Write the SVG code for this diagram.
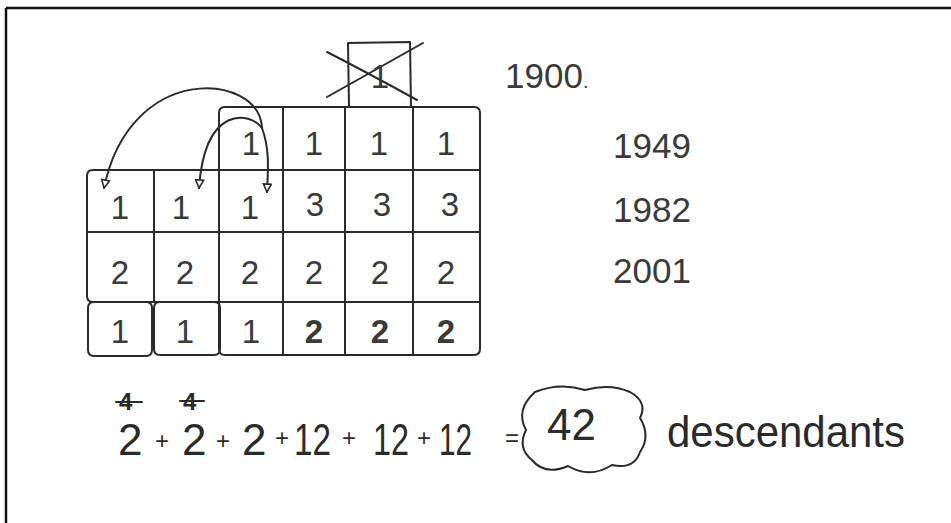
<svg xmlns="http://www.w3.org/2000/svg" width="951" height="523" viewBox="0 0 951 523">
<defs>
<style>
.ln{fill:none;stroke:#2a2a2a;stroke-width:2;stroke-linecap:round;stroke-linejoin:round}
.cell{font-family:"Liberation Sans",Arial,sans-serif;font-size:33px;fill:#3a3a3a;text-anchor:middle}
.yr{font-family:"Liberation Sans",Arial,sans-serif;font-size:35px;fill:#3a3a3a}
.eq{font-family:"Liberation Sans",Arial,sans-serif;font-size:44px;fill:#2a2a2a}
.pl{font-family:"Liberation Sans",Arial,sans-serif;font-size:24px;fill:#2a2a2a}
</style>
<marker id="ah" viewBox="0 0 10 10" refX="9" refY="5" markerWidth="10" markerHeight="10" markerUnits="userSpaceOnUse" orient="auto">
<path d="M1,1 L9,5 L1,9 Z" fill="#fff" stroke="#2a2a2a" stroke-width="1.6"/>
</marker>
</defs>
<rect width="951" height="523" fill="#fff"/>
<g id="frame">
<path d="M6 8 H951 M6 8 V523" stroke="#111" stroke-width="2.5" fill="none"/>
</g>
<g id="crossed-box">
<path class="ln" d="M348 43 L410 42 L411 107 L349 107 Z"/>
<path class="ln" d="M327 52 Q370 74 417 100 M327 97 Q375 70 423 43"/>
<text class="cell" x="380" y="88" font-size="30">1</text>
</g>
<g id="grid-right">
<path class="ln" d="M225 107 H474 Q480 107 480 113 V349 Q480 355 474 355 H225 Q219 355 219 349 V113 Q219 107 225 107 Z"/>
<path class="ln" d="M283 107 V355 M345 107 V355 M413 107 V355 M219 170 H480 M219 232 H480 M219 302 H480"/>
</g>
<g id="grid-left">
<path class="ln" d="M93 170 H219 V302 H93 Q87 302 87 296 V176 Q87 170 93 170 Z"/>
<path class="ln" d="M154 170 V302 M87 232 H219"/>
<path class="ln" d="M94 302 H146 Q152 302 152 308 V350 Q152 356 146 356 H94 Q88 356 88 350 V308 Q88 302 94 302 Z"/>
<path class="ln" d="M160 302 H214 Q220 302 220 308 V349 Q220 355 214 355 H160 Q154 355 154 349 V308 Q154 302 160 302 Z"/>
</g>
<g id="row1">
<text class="cell" x="251" y="155">1</text>
<text class="cell" x="314" y="155">1</text>
<text class="cell" x="379" y="155">1</text>
<text class="cell" x="446" y="155">1</text>
</g>
<g id="row2">
<text class="cell" x="120" y="219" font-size="38">1</text>
<text class="cell" x="181" y="219" font-size="38">1</text>
<text class="cell" x="250" y="219" font-size="38">1</text>
<text class="cell" x="315" y="216">3</text>
<text class="cell" x="382" y="216">3</text>
<text class="cell" x="450" y="216">3</text>
</g>
<g id="row3">
<text class="cell" x="120" y="284">2</text>
<text class="cell" x="185" y="284">2</text>
<text class="cell" x="250" y="284">2</text>
<text class="cell" x="314" y="284">2</text>
<text class="cell" x="380" y="284">2</text>
<text class="cell" x="446" y="284">2</text>
</g>
<g id="row4">
<text class="cell" x="120" y="343">1</text>
<text class="cell" x="185" y="343">1</text>
<text class="cell" x="251" y="343">1</text>
<text class="cell" x="314" y="343" font-weight="bold">2</text>
<text class="cell" x="380" y="343" font-weight="bold">2</text>
<text class="cell" x="446" y="343" font-weight="bold">2</text>
</g>
<g id="connectors">
<path class="ln" d="M262 127 C258 72 130 62 104 188" marker-end="url(#ah)"/>
<path class="ln" d="M262 128 C250 112 205 104 199 188" marker-end="url(#ah)"/>
<path class="ln" d="M262 128 C270 150 268 170 267 192" marker-end="url(#ah)"/>
</g>
<g id="years">
<text class="yr" x="505" y="88">1900<tspan font-size="20">.</tspan></text>
<text class="yr" x="613" y="158">1949</text>
<text class="yr" x="613" y="222">1982</text>
<text class="yr" x="613" y="283">2001</text>
</g>
<g id="equation">
<text class="pl" x="119" y="410" font-size="21" font-weight="bold">4</text>
<path class="ln" d="M116 402 H142"/>
<text class="pl" x="183" y="410" font-size="21" font-weight="bold">4</text>
<path class="ln" d="M180 401 H204"/>
<text class="eq" x="118" y="455">2</text>
<text class="pl" x="155" y="449">+</text>
<text class="eq" x="182" y="455">2</text>
<text class="pl" x="216" y="449">+</text>
<text class="eq" x="242" y="455">2</text>
<text class="pl" x="275" y="446" font-size="22">+</text>
<text class="eq" x="294" y="455" textLength="37" lengthAdjust="spacingAndGlyphs">12</text>
<text class="pl" x="342" y="446" font-size="22">+</text>
<text class="eq" x="373" y="455" textLength="36" lengthAdjust="spacingAndGlyphs">12</text>
<text class="pl" x="417" y="446" font-size="22">+</text>
<text class="eq" x="439" y="455" textLength="33" lengthAdjust="spacingAndGlyphs">12</text>
<text class="pl" x="505" y="446">=</text>
</g>
<g id="result">
<path class="ln" d="M535 392 Q560 382 585 390 Q610 383 630 392 Q648 402 640 418 Q651 436 640 452 Q634 470 612 465 Q590 479 568 466 Q545 476 532 460 Q517 448 526 430 Q515 410 535 392 Z"/>
<text class="eq" x="547" y="440" font-size="48">42</text>
<text class="eq" x="667" y="447" font-size="40" textLength="238" lengthAdjust="spacingAndGlyphs">descendants</text>
</g>
</svg>
